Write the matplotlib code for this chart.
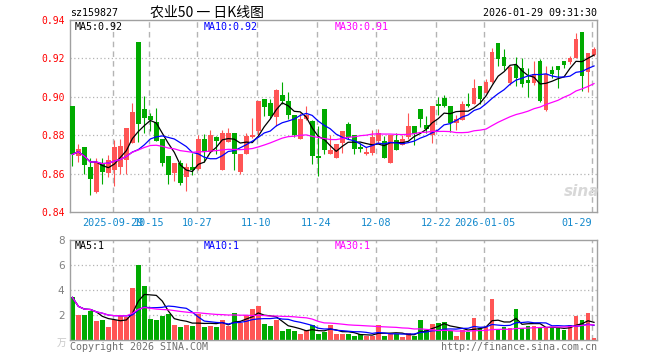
import matplotlib
matplotlib.use("Agg")
import matplotlib.pyplot as plt
import numpy as np
import pandas as pd

plt.rcParams['font.family'] = ['DejaVu Sans Mono', 'Noto Sans CJK SC']

# daily candles, 2025-09-18 .. 2026-01-29
opens = [0.895, 0.869, 0.8736, 0.8634, 0.8502, 0.8653, 0.8604, 0.862, 0.8632, 0.867,
         0.8759, 0.9286, 0.8935, 0.890, 0.8868, 0.878, 0.8692, 0.8604, 0.8653, 0.8583,
         0.8636, 0.8625, 0.878, 0.8715, 0.879, 0.8617, 0.8765, 0.8813, 0.8606, 0.870,
         0.879, 0.882, 0.8988, 0.8967, 0.8896, 0.9009, 0.8979, 0.8903, 0.8782, 0.8882,
         0.8873, 0.8692, 0.8935, 0.8703, 0.868, 0.8759, 0.8856, 0.8803, 0.8738, 0.8703,
         0.8706, 0.8768, 0.8768, 0.8657, 0.8776, 0.875, 0.879, 0.8847, 0.8935, 0.8854,
         0.8801, 0.8965, 0.8995, 0.8954, 0.8866, 0.888, 0.8963, 0.8965, 0.9056, 0.9018,
         0.9077, 0.9282, 0.9209, 0.9074, 0.9165, 0.9148, 0.9088, 0.9074, 0.9188, 0.8933,
         0.9141, 0.9162, 0.9188, 0.918, 0.920, 0.9338, 0.913, 0.9218]
highs = [0.895, 0.8755, 0.874, 0.868, 0.8683, 0.8683, 0.8697, 0.8776, 0.8782, 0.884,
         0.897, 0.9286, 0.9005, 0.8917, 0.8944, 0.878, 0.8692, 0.8657, 0.867, 0.8657,
         0.8706, 0.8803, 0.8808, 0.8826, 0.8795, 0.8829, 0.884, 0.8813, 0.870, 0.881,
         0.889, 0.8979, 0.8988, 0.8988, 0.9042, 0.9079, 0.9023, 0.8903, 0.8917, 0.8952,
         0.888, 0.8847, 0.8935, 0.8803, 0.8754, 0.8824, 0.8868, 0.8803, 0.8759, 0.8741,
         0.8826, 0.883, 0.8798, 0.8803, 0.8812, 0.880, 0.8914, 0.8847, 0.8935, 0.8898,
         0.8954, 0.900, 0.9007, 0.8954, 0.8907, 0.8977, 0.9021, 0.9095, 0.9056, 0.9092,
         0.9253, 0.9282, 0.925, 0.9162, 0.9206, 0.920, 0.9148, 0.9188, 0.9195, 0.9162,
         0.9162, 0.9162, 0.9188, 0.9214, 0.933, 0.9338, 0.9229, 0.9259]
lows = [0.864, 0.866, 0.860, 0.8486, 0.850, 0.8544, 0.8584, 0.8534, 0.860, 0.860,
        0.8759, 0.8762, 0.8812, 0.8821, 0.8768, 0.864, 0.8548, 0.8564, 0.854, 0.8509,
        0.8592, 0.862, 0.8662, 0.8715, 0.870, 0.8617, 0.8765, 0.862, 0.860, 0.870,
        0.8785, 0.880, 0.890, 0.889, 0.8847, 0.8961, 0.8882, 0.8791, 0.878, 0.8879,
        0.865, 0.8586, 0.8703, 0.870, 0.868, 0.8706, 0.878, 0.8701, 0.8715, 0.8697,
        0.8697, 0.876, 0.8683, 0.8657, 0.8724, 0.875, 0.878, 0.875, 0.8845, 0.881,
        0.8761, 0.8907, 0.8945, 0.8819, 0.8828, 0.888, 0.8945, 0.8963, 0.896, 0.9018,
        0.907, 0.9162, 0.914, 0.906, 0.9056, 0.905, 0.900, 0.906, 0.8972, 0.8925,
        0.910, 0.9048, 0.915, 0.917, 0.920, 0.903, 0.9025, 0.921]
closes = [0.870, 0.8727, 0.8644, 0.8572, 0.8659, 0.8609, 0.867, 0.8738, 0.8745, 0.8835,
          0.8923, 0.8856, 0.8891, 0.8879, 0.8768, 0.8657, 0.8592, 0.8657, 0.855, 0.8636,
          0.8618, 0.878, 0.8715, 0.8801, 0.877, 0.8813, 0.8813, 0.870, 0.870, 0.8794,
          0.880, 0.8979, 0.8947, 0.890, 0.9037, 0.8979, 0.8903, 0.8803, 0.8886, 0.8903,
          0.8694, 0.8683, 0.8724, 0.8724, 0.8754, 0.8824, 0.879, 0.8727, 0.8727, 0.8715,
          0.879, 0.8812, 0.8683, 0.8803, 0.8724, 0.8782, 0.8847, 0.8808, 0.8882, 0.8831,
          0.8954, 0.8954, 0.8954, 0.8866, 0.8886, 0.8965, 0.8954, 0.9044, 0.8986, 0.9077,
          0.9232, 0.9197, 0.9162, 0.9153, 0.910, 0.9065, 0.9074, 0.9118, 0.8977, 0.9118,
          0.9118, 0.9141, 0.9165, 0.920, 0.930, 0.9109, 0.9229, 0.925]
# volume, 10k shares
volumes = [3.41, 1.97, 2.03, 2.35, 1.49, 1.62, 1.08, 1.62, 1.89, 1.81,
           4.2, 6.03, 4.3, 1.70, 1.62, 1.89, 2.1, 1.22, 1.08, 1.22,
           1.14, 2.1, 1.08, 1.14, 1.08, 1.62, 1.14, 2.2, 1.4, 2.03,
           2.5, 2.7, 1.3, 1.14, 1.62, 0.73, 0.9, 0.76, 0.49, 0.81,
           1.19, 0.49, 0.68, 1.22, 0.47, 0.47, 0.47, 0.31, 0.47, 0.35,
           0.35, 1.19, 0.35, 0.5, 0.5, 0.23, 0.57, 0.31, 1.62, 0.79,
           1.3, 1.38, 1.46, 0.7, 0.35, 0.82, 0.65, 1.78, 0.93, 1.06,
           3.29, 0.87, 1.06, 0.93, 2.48, 0.93, 1.11, 1.11, 0.93, 0.93,
           1.0, 1.0, 0.79, 1.19, 1.92, 1.6, 2.19, 0.17]

tick_idx = [7, 13, 21, 31, 41, 51, 61, 69, 87]
tick_labels = ['2025-09-29', '10-15', '10-27', '11-10', '11-24', '12-08', '12-22',
               '2026-01-05', '01-29']

RED = '#ff5555'
GREEN = '#00aa00'
GRID = '#b4b4b4'
FRAME = '#a0a0a0'

o = np.array(opens); h = np.array(highs); l = np.array(lows); c = np.array(closes)
v = np.array(volumes)
x = np.arange(len(c)) + 0.28
up = c >= o
cols = np.where(up, RED, GREEN)

cs = pd.Series(c)
vs = pd.Series(v)

fig = plt.figure(figsize=(6.6, 3.6), dpi=100)
ax = fig.add_axes([70/660, 1-212/360, 527/660, 192/360])
axv = fig.add_axes([70/660, 1-340/360, 527/660, 100/360])

for a in (ax, axv):
    a.set_xlim(-0.12, 87.78)
    for s in a.spines.values():
        s.set_color(FRAME)
        s.set_linewidth(1)
    a.tick_params(length=0)
    for t in tick_idx:
        a.axvline(t, color=GRID, linestyle=(0, (4, 3)), linewidth=1, zorder=0)

# price panel
ax.set_ylim(0.84, 0.94)
for yv in [0.86, 0.88, 0.90, 0.92]:
    ax.axhline(yv, color=GRID, linestyle=(0, (1, 2)), linewidth=0.9, zorder=0)
ax.vlines(x, l, h, colors=cols, linewidth=0.8, zorder=2)
body = np.maximum(np.abs(c - o), 0.0004)
ax.bar(x, body, bottom=np.minimum(o, c), width=0.8, color=cols, linewidth=0, zorder=3)
ax.plot(x, cs.rolling(5, min_periods=1).mean(), color='black', linewidth=0.9, zorder=4)
ax.plot(x, cs.rolling(10, min_periods=1).mean(), color='#0000ff', linewidth=0.9, zorder=4)
ax.plot(x, cs.rolling(30, min_periods=1).mean(), color='#ff00ff', linewidth=0.9, zorder=4)
ax.set_yticks([0.84, 0.86, 0.88, 0.90, 0.92, 0.94])
ax.set_yticklabels(['0.84', '0.86', '0.88', '0.90', '0.92', '0.94'], color='red', fontsize=7)
ax.tick_params(axis='y', pad=3.5)
ax.set_xticks(tick_idx)
ax.set_xticklabels(tick_labels, color='#1188cc', fontsize=7.3)
ax.tick_params(axis='x', pad=4)
ax.get_xticklabels()[-1].set_ha('right')
fig.text(582/660, 1-192/360, 'sina', color='#d8d8d8', fontsize=11, fontweight='bold',
         style='italic', family='DejaVu Sans', ha='center', va='center')

# volume panel
axv.set_ylim(0, 8)
for yv in [2, 4, 6]:
    axv.axhline(yv, color=GRID, linestyle=(0, (1, 2)), linewidth=0.9, zorder=0)
axv.bar(x, v, width=0.8, color=cols, linewidth=0, zorder=2)
axv.plot(x, vs.rolling(5, min_periods=1).mean(), color='black', linewidth=0.9, zorder=4)
axv.plot(x, vs.rolling(10, min_periods=1).mean(), color='#0000ff', linewidth=0.9, zorder=4)
axv.plot(x, vs.rolling(30, min_periods=1).mean(), color='#ff00ff', linewidth=0.9, zorder=4)
axv.set_yticks([2, 4, 6, 8])
axv.set_yticklabels(['2', '4', '6', '8'], color='#808080', fontsize=7.5, family='DejaVu Sans')
axv.tick_params(axis='y', pad=4)
axv.set_xticks([])

def ftext(px, py, s, **kw):
    fig.text(px/660, 1-py/360, s, va='center', **kw)

ftext(70, 13, 'sz159827', fontsize=7.2)
ftext(207, 13, '农业50 一 日K线图', fontsize=10, ha='center', family=['Noto Sans CJK SC', 'DejaVu Sans'])
ftext(597, 13, '2026-01-29 09:31:30', fontsize=7.2, ha='right')
ftext(75, 27, 'MA5:0.92', fontsize=7.2)
ftext(204, 27, 'MA10:0.92', fontsize=7.2, color='#0000ff')
ftext(335, 27, 'MA30:0.91', fontsize=7.2, color='#ff00ff')
ftext(75, 246, 'MA5:1', fontsize=7.2)
ftext(204, 246, 'MA10:1', fontsize=7.2, color='#0000ff')
ftext(335, 246, 'MA30:1', fontsize=7.2, color='#ff00ff')
ftext(62, 343, '万', fontsize=7, color='#c8c8c8', ha='center', family=['Noto Sans CJK SC', 'DejaVu Sans'])
ftext(70, 347, 'Copyright 2026 SINA.COM', fontsize=7.2, color='#707070')
ftext(597, 347, 'http://finance.sina.com.cn', fontsize=7.2, color='#707070', ha='right')

fig.savefig('out.png', dpi=100)
